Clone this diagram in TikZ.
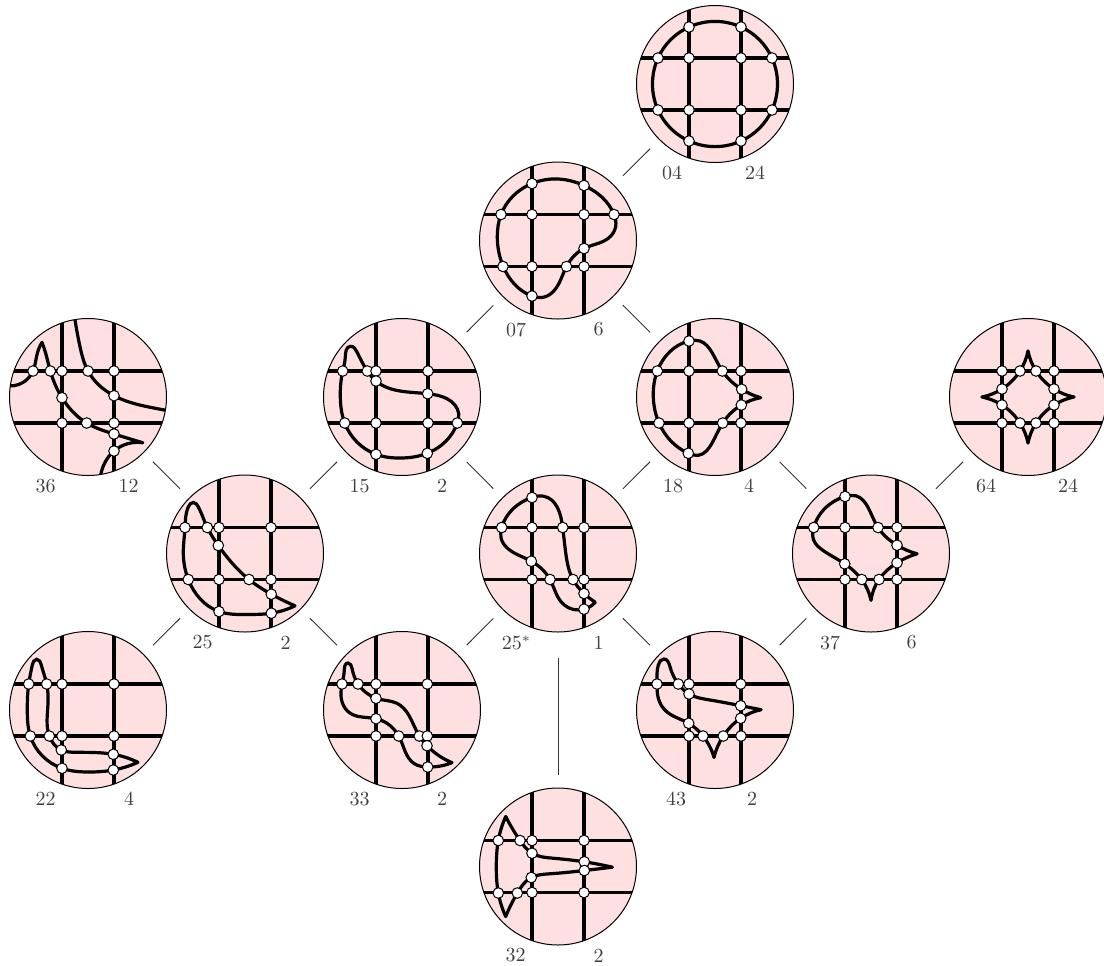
\documentclass[tikz,border=0pt]{standalone}
\usepackage{amsmath,amssymb}
\usepackage{tikz}
\usetikzlibrary{hobby}
\definecolor{diskpink}{RGB}{255,224,224}
\tikzset{
  disc/.style={circle, fill=diskpink, minimum size=78.5pt, inner sep=0pt, outer sep=0pt},
  wire/.style={line width=1.6pt},
  strand/.style={line width=1.6pt, line cap=round, use Hobby shortcut},
  junction/.style={circle, draw=black, fill=white, line width=0.5pt, minimum size=5.3pt, inner sep=0pt},
  lab/.style={text=black!75, inner sep=0pt},
  link/.style={line width=0.5pt, black!80, shorten <=6.6pt, shorten >=6.6pt},
}
% #1 name, #2 centre, #3/#4 and #5/#6 labels with their x, #7 strands, #8 junctions
\newcommand{\panel}[8]{
\begin{scope}[shift={(#2)}]
  \node[disc] (#1) at (0,0) {};
  \begin{scope}
    \clip (0,0) circle (78.5);
    \foreach \g in {-26,26} {
      \draw[wire] (\g,-79) -- (\g,79);
      \draw[wire] (-79,\g) -- (79,\g);
    }
    #7
  \end{scope}
  \draw[line width=0.5pt] (0,0) circle (78.5);
  \foreach \x/\y [count=\i] in {#8} {
    \node[junction] (#1j\i) at (\x,\y) {};
  }
  \node[lab] (#1l) at (#3,89) {#4};
  \node[lab] (#1r) at (#5,89) {#6};
\end{scope}
}

\begin{document}
\begin{tikzpicture}[x=0.5pt,y=-0.5pt]
\useasboundingbox (0,0) rectangle (1104,965);

\panel{n04}{715,84}{-43}{04}{40}{24}{
  \draw[strand,closed=true] (-26,-57) .. (26,-57) .. (57,-26) .. (62.5,0) .. (57,26) .. (26,57) .. (-26,57) .. (-57,26) .. (-62.5,0) .. (-57,-26);
}{-26/-57,26/-57,-57/-26,-26/-26,26/-26,57/-26,-57/26,-26/26,26/26,57/26,-26/57,26/57}

\panel{n07}{558,240.5}{-42}{07}{40.5}{6}{
  \draw[strand,closed=true] (-26,-57) .. (0,-61.5) .. (26,-55) .. (56,-26) .. (57.7,-14) .. (50,-2) .. (26,8) .. (8.5,26) .. (-4.7,51) .. (-16,57) .. (-26,55.5) .. (-55,25.5) .. (-60.7,-4) .. (-57,-26);
}{-26/-57,26/-55,-57/-26,-26/-26,26/-26,56/-26,26/8,-55/26,-26/26,8.5/26,26/26,-26/55.5}

\panel{n36}{88,397}{-42.5}{36}{40.5}{12}{
  \draw[strand] (-84,-12) .. (-64.7,-14.7) .. (-55,-26) .. (-50.7,-43.7) .. (-46,-54.7);
  \draw[strand] (-46,-54.7) .. (-42.3,-43.7) .. (-37.7,-26) .. (-26,0.7) .. (-1.3,26) .. (26,37) .. (54.7,45.7);
  \draw[strand] (54.7,45.7) .. (26,54) .. (12.7,78) .. (12,84);
  \draw[strand] (-14,-84) .. (-8,-50.3) .. (0,-26) .. (26,-1.3) .. (77.7,13.3) .. (84,14.6);
}{-55/-26,-37.7/-26,-26/-26,0/-26,26/-26,-26/0.7,26/-1.3,-26/26,-1.3/26,26/26,26/37,26/54}

\panel{n15}{402,397}{-42.5}{15}{40}{2}{
  \draw[strand,closed=true] (-59.3,-26) .. (-56.7,-40) .. (-51.7,-50.7) .. (-45,-45) .. (-34.7,-26) .. (-26,-16) .. (25.7,-3.3) .. (45,1.7) .. (56.7,16.7) .. (55.3,26) .. (25.3,56.3) .. (0,61) .. (-26,57.3) .. (-57.3,26) .. (-61.7,0);
}{-59.3/-26,-34.7/-26,-26/-26,26/-26,-26/-16,25.7/-3.3,-57.3/26,-26/26,26/26,55.3/26,-26/57.3,25.3/56.3}

\panel{n18}{715,397}{-42}{18}{34}{4}{
  \draw[strand] (45.7,0.7) .. (26.3,8) .. (7.7,26) .. (-3.3,46.7) .. (-16.7,58.3) .. (-26.7,56.3) .. (-56,26) .. (-61.7,0) .. (-57.7,-26) .. (-26,-56) .. (-15,-56) .. (-3.3,-45) .. (7.3,-26) .. (26.7,-7.7) .. (45.7,0.7);
}{-26/-56,-57.7/-26,-26/-26,7.3/-26,26/-26,26.7/-7.7,26.3/8,-56/26,-26/26,7.7/26,26/26,-26.7/56.3}

\panel{n64}{1028,397}{-42}{64}{40}{24}{
  \draw[strand] (46,0) .. (26,8) .. (8,26) .. (0,46);
  \draw[strand] (0,46) .. (-8,26) .. (-26,8) .. (-46,0);
  \draw[strand] (-46,0) .. (-26,-8) .. (-8,-26) .. (0,-46);
  \draw[strand] (0,-46) .. (8,-26) .. (26,-8) .. (46,0);
}{-26/-26,-8/-26,8/-26,26/-26,-26/-8,26/-8,-26/8,26/8,-26/26,-8/26,8/26,26/26}

\panel{n25}{245,553.5}{-42.5}{25}{40.5}{2}{
  \draw[strand] (50,52.3) .. (26.3,59.7) .. (1.7,61) .. (-26,58) .. (-56.7,26) .. (-61.7,0) .. (-60,-26) .. (-56.7,-46.7) .. (-51.7,-51) .. (-46.7,-46.7) .. (-37.7,-26) .. (-26.7,-8) .. (4,26) .. (26.3,40.7) .. (50,52.3);
}{-60/-26,-37.7/-26,-26/-26,26/-26,-26.7/-8,-56.7/26,-26/26,4/26,26/26,26.3/40.7,-26/58,26.3/59.7}

\panel{n25s}{558,553.5}{-41.5}{$25^*$}{40.5}{1}{
  \draw[strand] (37.3,48.7) .. (26,55.7) .. (15.7,56) .. (4,49.3) .. (-8,26) .. (-26.7,7.7) .. (-51,-5.7) .. (-57,-15.7) .. (-56.3,-26) .. (-26,-56) .. (-14.3,-57.3) .. (4.7,-26) .. (7.3,-4) .. (15,26) .. (26,40) .. (37.3,48.7);
}{-26/-56,-56.3/-26,-26/-26,4.7/-26,26/-26,-26.7/7.7,-26/26,-8/26,15/26,26/26,26/40,26/55.7}

\panel{n37}{871,553.5}{-41}{37}{40.7}{6}{
  \draw[strand] (46,0.3) .. (26,9.3) .. (8,26) .. (0,46.7);
  \draw[strand] (0,46.7) .. (-9.3,26) .. (-26.3,10.3) .. (-48.3,-3.3) .. (-57.3,-13.3) .. (-57.3,-26) .. (-26,-57) .. (-15,-57.7) .. (-3.3,-46.7) .. (7,-26) .. (16.7,-15) .. (26,-8.3) .. (46,0.3);
}{-26/-57,-57.3/-26,-26/-26,7/-26,26/-26,26/-8.3,26/9.3,-26.3/10.3,-26/26,-9.3/26,8/26,26/26}

\panel{n22}{88,710}{-42.5}{22}{41}{4}{
  \draw[strand] (50,52.3) .. (25.3,60) .. (0,62) .. (-26,58.3) .. (-57.7,26) .. (-60.7,0) .. (-59.3,-26) .. (-55.7,-45) .. (-51.3,-50.7) .. (-46.7,-45) .. (-41.3,-26) .. (-40,-6.7) .. (-38.7,26) .. (-26.7,40) .. (-11.7,42.3) .. (25.3,44.3) .. (50,52.3);
}{-59.3/-26,-41.3/-26,-26/-26,26/-26,-57.7/26,-38.7/26,-26/26,26/26,-26.7/40,25.3/44.3,-26/58.3,25.3/60}

\panel{n33}{402,710}{-42.5}{33}{40}{2}{
  \draw[strand] (50,52.7) .. (25.7,57) .. (11.7,53.3) .. (3.3,41.7) .. (-3.3,26) .. (-15,13.3) .. (-26,8.7) .. (-51.7,3.3) .. (-60,-8.3) .. (-60,-26) .. (-57.7,-40) .. (-54,-47) .. (-50,-41.7) .. (-44,-26) .. (-35,-16.7) .. (-26,-11.7) .. (-5,-6.7) .. (6.7,5) .. (17.3,26) .. (25,35.7) .. (50,52.7);
}{-60/-26,-44/-26,-26/-26,25.3/-26,-26/-11.7,-26/8.7,-26/26,-3.3/26,17.3/26,25.3/26,25/35.7,25.7/57}

\panel{n43}{715,710}{-39}{43}{37}{2}{
  \draw[strand] (46,-0.3) .. (25.7,8.3) .. (8.3,26) .. (-1,47.3);
  \draw[strand] (-1,47.3) .. (-12,26) .. (-26.3,13.3) .. (-48.3,1.7) .. (-56.7,-11.7) .. (-58,-26) .. (-56.7,-45) .. (-51,-51) .. (-45,-43.3) .. (-36.7,-26) .. (-26,-16) .. (-5,-10) .. (25.7,-4.3) .. (46,-0.3);
}{-58/-26,-36.7/-26,-26/-26,25.7/-26,-26/-16,25.7/-4.3,25.7/8.3,-26.3/13.3,-26/26,-12/26,8.3/26,26/26}

\panel{n32}{558,866.5}{-42.5}{32}{40.5}{2}{
  \draw[strand] (54.3,0.7) .. (26.3,4) .. (-8.3,7.3) .. (-26.7,11) .. (-40.7,26.5) .. (-52.3,50);
  \draw[strand] (-52.3,50) .. (-59.7,26.5) .. (-61.7,0) .. (-59.7,-26) .. (-52.3,-50);
  \draw[strand] (-52.3,-50) .. (-38,-26) .. (-26,-13.3) .. (-5,-8.3) .. (26.3,-4.7) .. (54.3,0.7);
}{-59.7/-26,-38/-26,-26/-26,26/-26,-26/-13.3,26.3/-4.7,26.3/4,-26.7/11,-59.7/26.5,-40.7/26.5,-26/26,26/26}

\foreach \a/\b in {n04/n07,n07/n15,n07/n18,n36/n25,n15/n25,n15/n25s,n18/n25s,n18/n37,n64/n37,n25/n22,n25/n33,n25s/n33,n25s/n43,n37/n43} {
  \draw[link] (\a) -- (\b);
}
\draw[link, shorten <=13pt] (n25s) -- (n32);
\end{tikzpicture}
\end{document}
